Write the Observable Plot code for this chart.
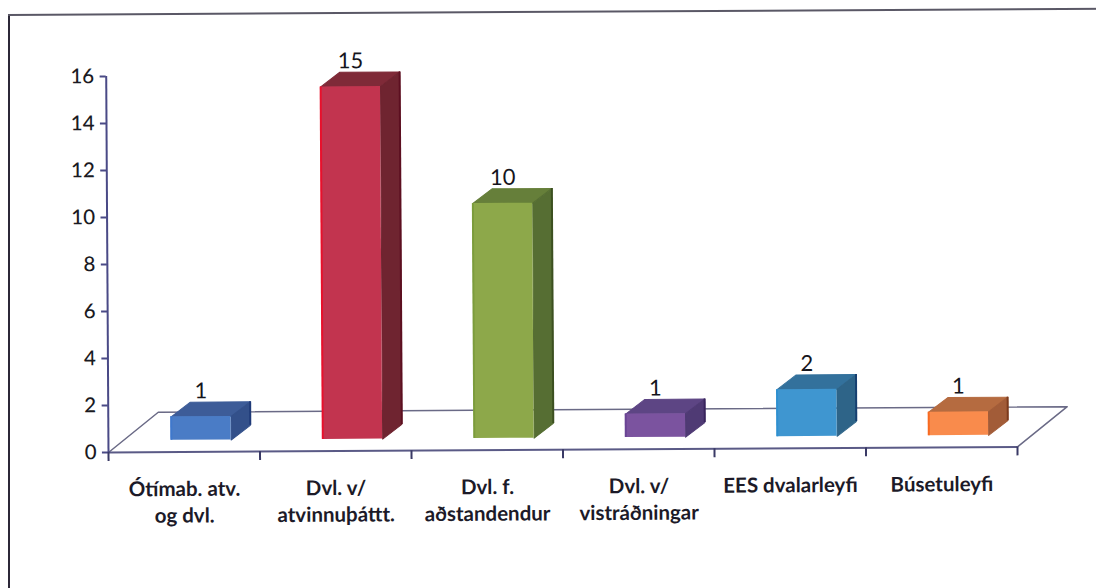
<!DOCTYPE html>
<html><head><meta charset="utf-8">
<script src="https://cdn.jsdelivr.net/npm/d3@7"></script>
<script src="https://cdn.jsdelivr.net/npm/@observablehq/plot@0.6"></script>
<style>html,body{margin:0;padding:0;background:#fff;overflow:hidden}
#c{position:absolute;left:0;top:0;width:1096px;height:588px}
#left{position:absolute;left:8px;top:14px;width:2px;height:574px;background:#2c2838}
#top{position:absolute;left:8px;top:14px;width:1100px;height:2px;background:#5a5866;transform-origin:0 0;transform:rotate(-0.33deg)}
svg{position:absolute;left:0;top:0;overflow:visible;transform-origin:108px 452px;transform:rotate(-0.35deg)}
</style></head><body><div id="left"></div><div id="top"></div><div id="c"></div>
<script>
const categories = ["Ótímab. atv.\nog dvl.", "Dvl. v/\natvinnuþáttt.", "Dvl. f.\naðstandendur", "Dvl. v/\nvistráðningar", "EES dvalarleyfi", "Búsetuleyfi"];
const values = [1, 15, 10, 1, 2, 1];
const frontColors = ["#4a7cc6", "#c2344f", "#8da84a", "#7b539f", "#3f96d0", "#f98b4c"];
const topColors = ["#3d5c98", "#7f2a38", "#667f3a", "#5d4584", "#33719c", "#b56b40"];
const sideColors = ["#33508a", "#6f2430", "#566e33", "#4f3a74", "#2e6488", "#a25c38"];
const edgeColors = ["#1f3a78", "#5c0f20", "#3c5020", "#38245c", "#163f70", "#7c3a1c"];
const leftEdgeColors = ["#3f78cc", "#e8102c", "#7c9c3c", "#6a4494", "#2f90d0", "#f86a20"];
const yTicks = [0, 2, 4, 6, 8, 10, 12, 14, 16];
const barStart = 0.415, barWidth = 0.395;   // in category units
const baseLift = 0.5;                       // front of the bars sits above the floor edge
const depthX = 0.127, depthY = 0.62;        // bar depth
const floorX = 0.33, floorY = 1.7;          // floor depth

const idx = d3.range(values.length);
const X = i => i + barStart;
const poly = (pts, i) => pts.map(([x, y]) => ({x, y, i}));
const topFaces = idx.flatMap(i => poly([
  [X(i), values[i] + baseLift], [X(i) + barWidth, values[i] + baseLift],
  [X(i) + barWidth + depthX, values[i] + baseLift + depthY], [X(i) + depthX, values[i] + baseLift + depthY],
  [X(i), values[i] + baseLift]], i));
const sideFaces = idx.flatMap(i => poly([
  [X(i) + barWidth, baseLift], [X(i) + barWidth + depthX, baseLift + depthY],
  [X(i) + barWidth + depthX, values[i] + baseLift + depthY], [X(i) + barWidth, values[i] + baseLift],
  [X(i) + barWidth, baseLift]], i));
const floor = [[0, 0], [floorX, floorY], [6 + floorX, floorY], [6, 0]].map(([x, y]) => ({x, y}));

const chart = Plot.plot({
  width: 1096, height: 588,
  marginLeft: 0, marginRight: 0, marginTop: 0, marginBottom: 0,
  x: {type: "linear", domain: [0, 6], range: [108, 1017], axis: null},
  y: {type: "linear", domain: [0, 16], range: [452, 76], axis: null},
  marks: [
    Plot.line(floor, {x: "x", y: "y", stroke: "#6a6a86", strokeWidth: 1.5}),
    Plot.ruleY([0], {x1: 0, x2: 6, stroke: "#5a5a86", strokeWidth: 2}),
    Plot.ruleX([0], {y1: 0, y2: 16, stroke: "#4a4a86", strokeWidth: 2}),
    Plot.ruleY(yTicks, {x1: -0.04, x2: 0, y: d => d, stroke: "#4a4a86", strokeWidth: 2}),
    Plot.ruleX(d3.range(0, 7), {x: d => d, y1: 0, y2: -0.38, stroke: "#3a3a66", strokeWidth: 2}),
    Plot.text(yTicks, {x: 0, y: d => d, text: d => String(d), dx: -12, fontSize: 20.5, fontFamily: "Lato, sans-serif", fontWeight: 500, fill: "#1a1a22", textAnchor: "end"}),
    Plot.line(topFaces, {x: "x", y: "y", z: "i", fill: d => topColors[d.i], stroke: d => topColors[d.i], strokeWidth: 1}),
    Plot.line(sideFaces, {x: "x", y: "y", z: "i", fill: d => sideColors[d.i], stroke: d => sideColors[d.i], strokeWidth: 1}),
    Plot.ruleX(idx, {x: i => X(i) + barWidth + depthX, y1: baseLift + depthY, y2: i => values[i] + baseLift + depthY, stroke: i => edgeColors[i], strokeWidth: 2}),
    Plot.rect(idx, {x1: X, x2: i => X(i) + barWidth, y1: baseLift, y2: i => values[i] + baseLift, fill: i => frontColors[i]}),
    Plot.ruleX(idx, {x: X, y1: baseLift, y2: i => values[i] + baseLift, stroke: i => leftEdgeColors[i], strokeWidth: 2}),
    Plot.text(idx, {x: i => X(i) + barWidth * 0.5, y: i => values[i] + baseLift + depthY, text: i => String(values[i]), dy: -11, fontSize: 22, fontFamily: "Lato, sans-serif", fill: "#15151c"}),
    Plot.text(idx, {x: i => i + 0.5, y: 0, text: i => categories[i], dy: 25, lineAnchor: "top", lineHeight: 1.3, fontSize: 20.5, fontWeight: "bold", fontFamily: "Lato, sans-serif", fill: "#1c1a28"})
  ]
});
document.getElementById("c").appendChild(chart);
</script></body></html>
